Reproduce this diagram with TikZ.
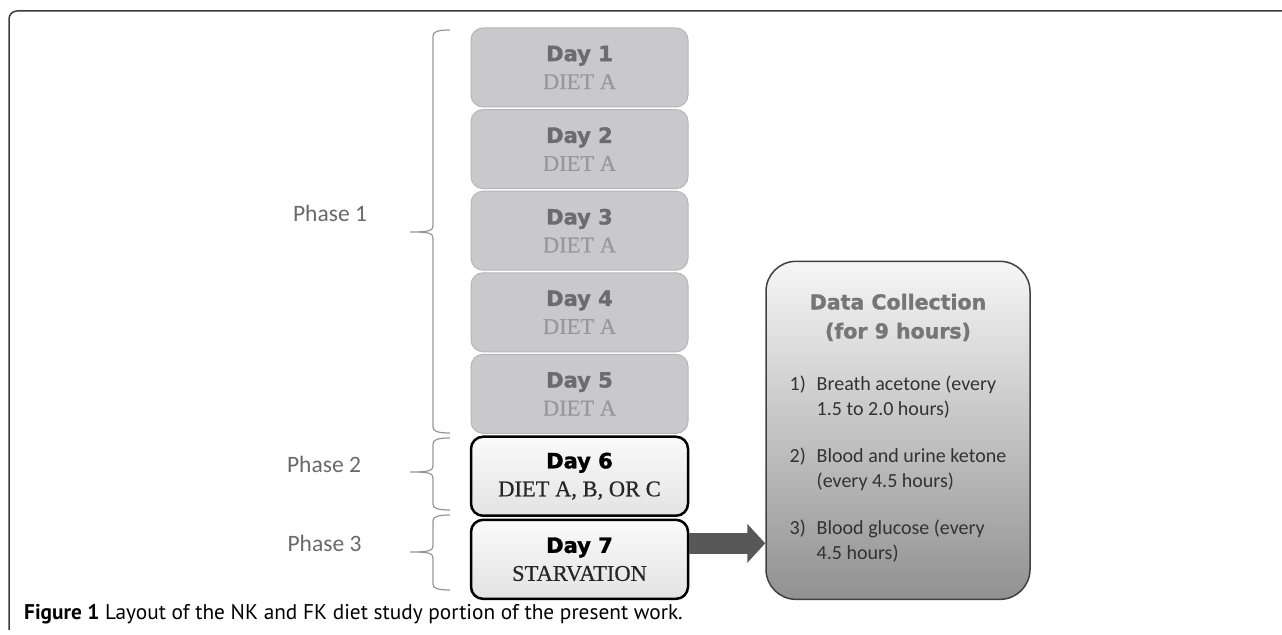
\documentclass[tikz,border=0pt]{standalone}
\usepackage{fontspec}
\usepackage{xcolor}
\usetikzlibrary{arrows.meta,positioning,calc}
\newfontfamily\headfont{DejaVu Sans}[BoldFeatures={FakeBold=1.5}]
\newfontfamily\dietfont{Liberation Serif}[FakeBold=0.6]
\newfontfamily\labelfont{Carlito}
\newfontfamily\capfont{PT Sans}
\definecolor{pastfill} {RGB}{201,201,203}
\definecolor{pastdraw} {RGB}{182,182,184}
\definecolor{pasthead} {RGB}{108,108,110}
\definecolor{pastdiet} {RGB}{152,152,154}
\definecolor{phasegray}{RGB}{105,105,105}
\definecolor{bracegray}{RGB}{150,150,150}
\definecolor{datatop}  {RGB}{246,246,246}
\definecolor{databot}  {RGB}{145,145,145}
\definecolor{datadraw} {RGB}{64,64,64}
\definecolor{datahead} {RGB}{118,118,118}
\definecolor{datatext} {RGB}{50,50,50}
\definecolor{arrowgray}{RGB}{88,88,88}
\definecolor{framegray}{RGB}{60,60,60}
\tikzset{
  daybox/.style   ={rounded corners=12bp, align=center, inner sep=0pt,
                    minimum width=217bp, minimum height=79bp,
                    font=\fontsize{21bp}{28bp}\selectfont},
  pastbox/.style  ={daybox, fill=pastfill, draw=pastdraw, line width=1bp,
                    text=pasthead},
  nowbox/.style   ={daybox, draw=black, line width=2.5bp,
                    top color=gray!4, bottom color=gray!22, text=black},
  databox/.style  ={draw=datadraw, line width=1.5bp, rounded corners=30bp,
                    top color=datatop, bottom color=databot,
                    minimum width=264bp, minimum height=338bp,
                    align=center, inner sep=0pt, text=datahead,
                    font=\headfont\bfseries\fontsize{20.5bp}{29bp}\selectfont},
  phaselbl/.style ={font=\labelfont\fontsize{23.5bp}{28bp}\selectfont,
                    text=phasegray, inner sep=0pt},
  bracepath/.style={draw=bracegray, line width=1.2bp},
  bigarr/.style   ={-{Triangle[length=18bp,width=38bp]}, line width=21bp,
                    draw=arrowgray},
  framepath/.style={draw=framegray, line width=1.5bp, rounded corners=8bp},
}
% brace at the left of the day column: #1 top, #2 tip, #3 bottom
\newcommand{\phasebrace}[3]{%
  \draw[bracepath] (450,#1) .. controls (437,#1) and (433,{#1-2}) .. (433,{#1-6})
    -- (433,{#2+6}) .. controls (433,{#2+1}) and (428,#2) .. (410,#2)
    .. controls (428,#2) and (433,{#2-1}) .. (433,{#2-6})
    -- (433,{#3+6}) .. controls (433,{#3+2}) and (437,#3) .. (450,#3);}

\begin{document}
\begin{tikzpicture}[x=1bp, y=1bp, node distance=1.6bp]
  \useasboundingbox (0,0) rectangle (1282,635);
  \draw[framepath] (9,5) -- (9,624) -- (1282,624);

  %% day column
  \node[pastbox] (day1) at (579.5,567.5)
        {{\headfont\bfseries Day 1}\\{\dietfont\fontsize{22.5bp}{28bp}\selectfont\color{pastdiet}DIET A}};
  \node[pastbox, below=of day1] (day2)
        {{\headfont\bfseries Day 2}\\{\dietfont\fontsize{22.5bp}{28bp}\selectfont\color{pastdiet}DIET A}};
  \node[pastbox, below=of day2] (day3)
        {{\headfont\bfseries Day 3}\\{\dietfont\fontsize{22.5bp}{28bp}\selectfont\color{pastdiet}DIET A}};
  \node[pastbox, below=of day3] (day4)
        {{\headfont\bfseries Day 4}\\{\dietfont\fontsize{22.5bp}{28bp}\selectfont\color{pastdiet}DIET A}};
  \node[pastbox, below=of day4] (day5)
        {{\headfont\bfseries Day 5}\\{\dietfont\fontsize{22.5bp}{28bp}\selectfont\color{pastdiet}DIET A}};
  \node[nowbox, below=of day5] (day6)
        {{\headfont\bfseries Day 6}\\{\dietfont\fontsize{22.5bp}{28bp}\selectfont\color{black!85}DIET A, B, OR C}};
  \node[nowbox, below=of day6] (day7)
        {{\headfont\bfseries Day 7}\\{\dietfont\fontsize{22.5bp}{28bp}\selectfont\color{black!85}STARVATION}};

  %% data collection box
  \node[databox, right=76bp of day7.south east, anchor=south west] (data)
        {Data Collection\\(for 9 hours)\\[23bp]
         {\labelfont\mdseries\color{datatext}\fontsize{20bp}{25bp}\selectfont
          \begin{tabular}[t]{@{}p{27bp}@{}l@{}}
            1) & Breath acetone (every\\
               & 1.5 to 2.0 hours)\\[22bp]
            2) & Blood and urine ketone\\
               & (every 4.5 hours)\\[22bp]
            3) & Blood glucose (every\\
               & 4.5 hours)
          \end{tabular}}};

  \coordinate (arrstart) at ([yshift=16bp]day7.east);
  \draw[bigarr] (arrstart) -- (arrstart -| data.west);

  %% phases
  \phasebrace{605}{403}{202}
  \phasebrace{197}{163}{125}
  \phasebrace{120}{83}{45}
  \node[phaselbl] (ph1) at (330,422) {Phase 1};
  \node[phaselbl] (ph2) at (324,171) {Phase 2};
  \node[phaselbl] (ph3) at (324.5,92) {Phase 3};

  \node[anchor=west, inner sep=0pt, font=\capfont\fontsize{21.3bp}{25bp}\selectfont]
        (caption) at (24,21)
        {\textbf{Figure 1} Layout of the NK and FK diet study portion of the present work.};
\end{tikzpicture}
\end{document}
